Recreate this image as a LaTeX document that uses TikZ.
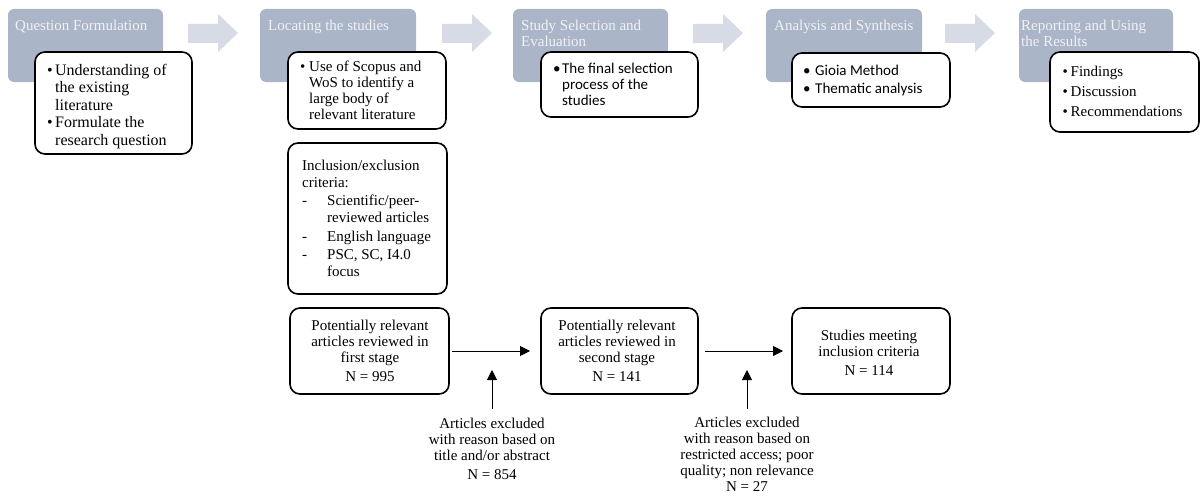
\documentclass[tikz,border=0pt]{standalone}
\usepackage{fontspec}
\setmainfont{Liberation Serif}
\newfontfamily\calfont{Carlito}
\usetikzlibrary{arrows.meta}
\definecolor{hdrfill}{RGB}{171,181,200}
\definecolor{hdrtext}{RGB}{240,242,246}
\definecolor{arrfill}{RGB}{214,219,229}
\newcommand\mybul[1]{\makebox[#1][l]{•}}
\newcommand\myind[1]{\makebox[#1]{}}
\newcommand\mydash{\makebox[25pt][l]{-}}
\newcommand\topstrut{\rule{0pt}{12pt}}
\begin{document}
\begin{tikzpicture}[x=1pt,y=-1pt,
  hdrbox/.style={fill=hdrfill, rounded corners=6pt, inner sep=0pt, outer sep=0pt, anchor=north west},
  wbox/.style={draw=black, fill=white, line width=1.6pt, rounded corners=10pt, inner sep=0pt, outer sep=0pt, anchor=north west},
  hdrtxt/.style={text=hdrtext, inner sep=0pt, anchor=north west, align=left, font=\fontsize{15}{16}\selectfont},
  txt/.style={inner sep=0pt, anchor=north west, align=left},
  ctxt/.style={inner sep=0pt, anchor=north, align=center, font=\fontsize{15}{16}\selectfont},
  conn/.style={draw=black, line width=0.9pt, -{Triangle[length=10pt,width=10pt]}},
  blockarrow/.style={fill=arrfill}
]
\useasboundingbox (0,0) rectangle (1201,495);

% header boxes
\node[hdrbox, minimum width=155pt, minimum height=73pt] (h1) at (8,9) {};
\node[hdrbox, minimum width=156pt, minimum height=73pt] (h2) at (260,9) {};
\node[hdrbox, minimum width=155pt, minimum height=73pt] (h3) at (513,9) {};
\node[hdrbox, minimum width=156pt, minimum height=73pt] (h4) at (766,9) {};
\node[hdrbox, minimum width=154pt, minimum height=73pt] (h5) at (1019,9) {};

% block arrows between header boxes
\foreach \dx in {0,254,505,757}{
  \fill[blockarrow, shift={(\dx,0)}] (188,24) -- (218,24) -- (218,14) -- (238,33) -- (218,52) -- (218,43) -- (188,43) -- cycle;
}

% header texts
\node[hdrtxt] (t1) at (15,18) {\topstrut Question Formulation};
\node[hdrtxt] (t2) at (268,18) {\topstrut Locating the studies};
\node[hdrtxt] (t3) at (521,18) {\topstrut Study Selection and\\Evaluation};
\node[hdrtxt] (t4) at (774,18) {\topstrut Analysis and Synthesis};
\node[hdrtxt] (t5) at (1021,18) {\topstrut Reporting and Using\\the Results};

% white boxes
\node[wbox, minimum width=157pt, minimum height=102pt] (w1) at (35,52) {};
\node[wbox, minimum width=158pt, minimum height=77pt] (w2) at (288,52) {};
\node[wbox, minimum width=157pt, minimum height=65pt] (w3) at (541,52) {};
\node[wbox, minimum width=158pt, minimum height=54pt] (w4) at (792,53) {};
\node[wbox, minimum width=149pt, minimum height=80pt] (w5) at (1050,52) {};
\node[wbox, minimum width=159pt, minimum height=151pt] (inc) at (288,143) {};
\node[wbox, minimum width=159pt, minimum height=86pt] (b1) at (290,308) {};
\node[wbox, minimum width=157pt, minimum height=86pt] (b2) at (541,308) {};
\node[wbox, minimum width=158pt, minimum height=86pt] (b3) at (792,308) {};

% white box texts
\node[txt, font=\fontsize{16}{17.5}\selectfont] (w1t) at (47,63)
  {\topstrut\mybul{8pt}Understanding of\\\myind{8pt}the existing\\\myind{8pt}literature\\\mybul{8pt}Formulate the\\\myind{8pt}research question};
\node[txt, font=\fontsize{15}{16}\selectfont] (w2t) at (300,59.5)
  {\topstrut\mybul{9pt}Use of Scopus and\\\myind{9pt}WoS to identify a\\\myind{9pt}large body of\\\myind{9pt}relevant literature};
\node[txt, font=\calfont\fontsize{15}{16}\selectfont] (w3t) at (553,61.3)
  {\topstrut\mybul{9pt}The final selection\\\myind{9pt}process of the\\\myind{9pt}studies};
\node[txt, font=\calfont\fontsize{15}{18.3}\selectfont] (w4t) at (803,63)
  {\topstrut\mybul{12pt}Gioia Method\\\mybul{12pt}Thematic analysis};
\node[txt, font=\fontsize{15}{20.3}\selectfont] (w5t) at (1062.5,64)
  {\topstrut\mybul{8pt}Findings\\\mybul{8pt}Discussion\\\mybul{8pt}Recommendations};
\node[txt, font=\fontsize{15}{17}\selectfont] (inct) at (302,158)
  {\topstrut Inclusion/exclusion\\criteria:\\[1.5pt]\mydash Scientific/peer-\\\myind{25pt}reviewed articles\\[1.5pt]\mydash English language\\[1.5pt]\mydash PSC, SC, I4.0\\\myind{25pt}focus};

% flow box texts
\node[ctxt] (b1t) at (370,318) {\topstrut Potentially relevant\\articles reviewed in\\first stage\\[3.5pt]N = 995};
\node[ctxt] (b2t) at (617,318) {\topstrut Potentially relevant\\articles reviewed in\\second stage\\[3.5pt]N = 141};
\node[ctxt] (b3t) at (869,328) {\topstrut Studies meeting\\inclusion criteria\\[3pt]N = 114};
\node[ctxt] (ex1) at (492,416) {\topstrut Articles excluded\\with reason based on\\title and/or abstract\\[3pt]N = 854};
\node[ctxt] (ex2) at (747,415) {\topstrut Articles excluded\\with reason based on\\restricted access; poor\\quality; non relevance\\N = 27};

% connectors
\draw[conn, shorten <=3pt, shorten >=11pt] (b1.east) -- (b2.west);
\draw[conn, shorten <=7pt, shorten >=9pt] (b2.east) -- (b3.west);
\coordinate (u1) at (492,370);
\coordinate (u2) at (747,370);
\draw[conn, shorten <=7pt] (ex1.north) -- (u1);
\draw[conn, shorten <=6pt] (ex2.north) -- (u2);
\end{tikzpicture}
\end{document}
